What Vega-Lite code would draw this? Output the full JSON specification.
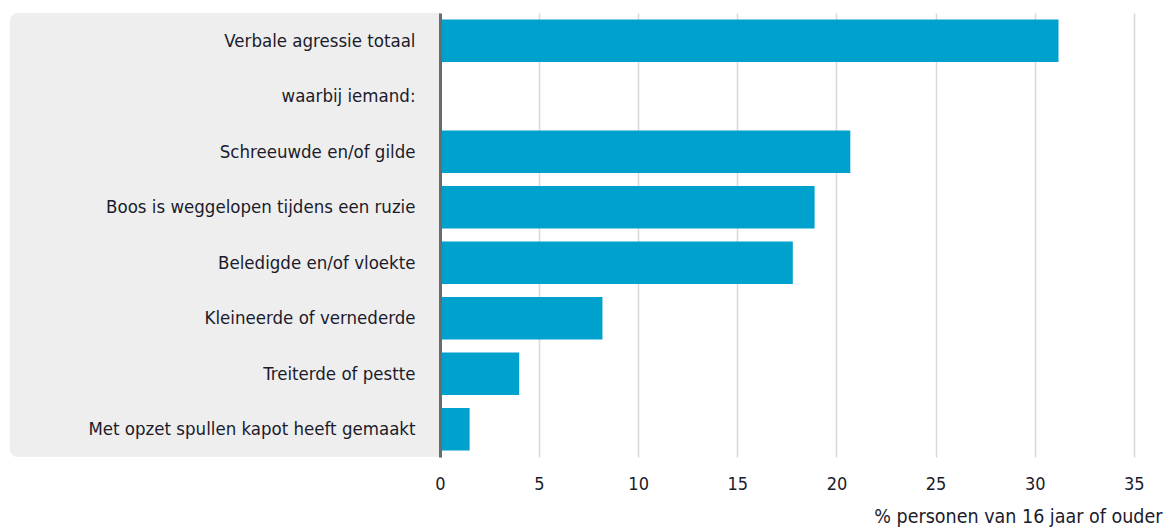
{
  "$schema": "https://vega.github.io/schema/vega-lite/v6.json",
  "width": 1152,
  "height": 444,
  "autosize": {"type": "none"},
  "padding": {"left": 10, "top": 13, "right": 8, "bottom": 72},
  "background": "white",
  "config": {
    "view": {"stroke": null},
    "font": "Liberation Sans Narrow, DejaVu Sans Condensed, sans-serif"
  },
  "data": {
    "values": [
      {"categorie": "Verbale agressie totaal", "procent": 31.2},
      {"categorie": "waarbij iemand:", "procent": null},
      {"categorie": "Schreeuwde en/of gilde", "procent": 20.7},
      {"categorie": "Boos is weggelopen tijdens een ruzie", "procent": 18.9},
      {"categorie": "Beledigde en/of vloekte", "procent": 17.8},
      {"categorie": "Kleineerde of vernederde", "procent": 8.2},
      {"categorie": "Treiterde of pestte", "procent": 4.0},
      {"categorie": "Met opzet spullen kapot heeft gemaakt", "procent": 1.5}
    ]
  },
  "encoding": {
    "y": {
      "field": "categorie",
      "type": "nominal",
      "sort": null,
      "scale": {
        "domain": [
          "Verbale agressie totaal",
          "waarbij iemand:",
          "Schreeuwde en/of gilde",
          "Boos is weggelopen tijdens een ruzie",
          "Beledigde en/of vloekte",
          "Kleineerde of vernederde",
          "Treiterde of pestte",
          "Met opzet spullen kapot heeft gemaakt"
        ],
        "paddingInner": 0.23,
        "paddingOuter": 0.115
      },
      "axis": {
        "title": null,
        "offset": -430,
        "zindex": 2,
        "ticks": false,
        "domain": true,
        "domainColor": "#6b6b6b",
        "domainWidth": 3,
        "labelFontSize": 18.5,
        "labelColor": "#1b1b2b",
        "labelPadding": 25,
        "labelLimit": 420
      }
    }
  },
  "layer": [
    {
      "mark": {
        "type": "rect",
        "color": "#eeeeee",
        "cornerRadiusTopLeft": 9,
        "cornerRadiusBottomLeft": 9
      },
      "encoding": {
        "x": {"datum": -21.68},
        "x2": {"datum": 0},
        "y": null
      }
    },
    {
      "mark": {"type": "bar", "color": "#00a1cd"},
      "encoding": {
        "x": {
          "field": "procent",
          "type": "quantitative",
          "scale": {"domain": [-21.68, 36.42], "nice": false, "zero": false},
          "axis": {
            "values": [0, 5, 10, 15, 20, 25, 30, 35],
            "grid": true,
            "gridColor": "#d8d8d8",
            "gridWidth": 1.5,
            "ticks": false,
            "domain": false,
            "labelFontSize": 18,
            "labelColor": "#1b1b2b",
            "labelPadding": 18,
            "title": "% personen van 16 jaar of ouder",
            "titleAnchor": "end",
            "titleFontWeight": "normal",
            "titleFontSize": 19.5,
            "titleColor": "#1b1b2b",
            "titlePadding": 14
          }
        }
      }
    }
  ]
}
